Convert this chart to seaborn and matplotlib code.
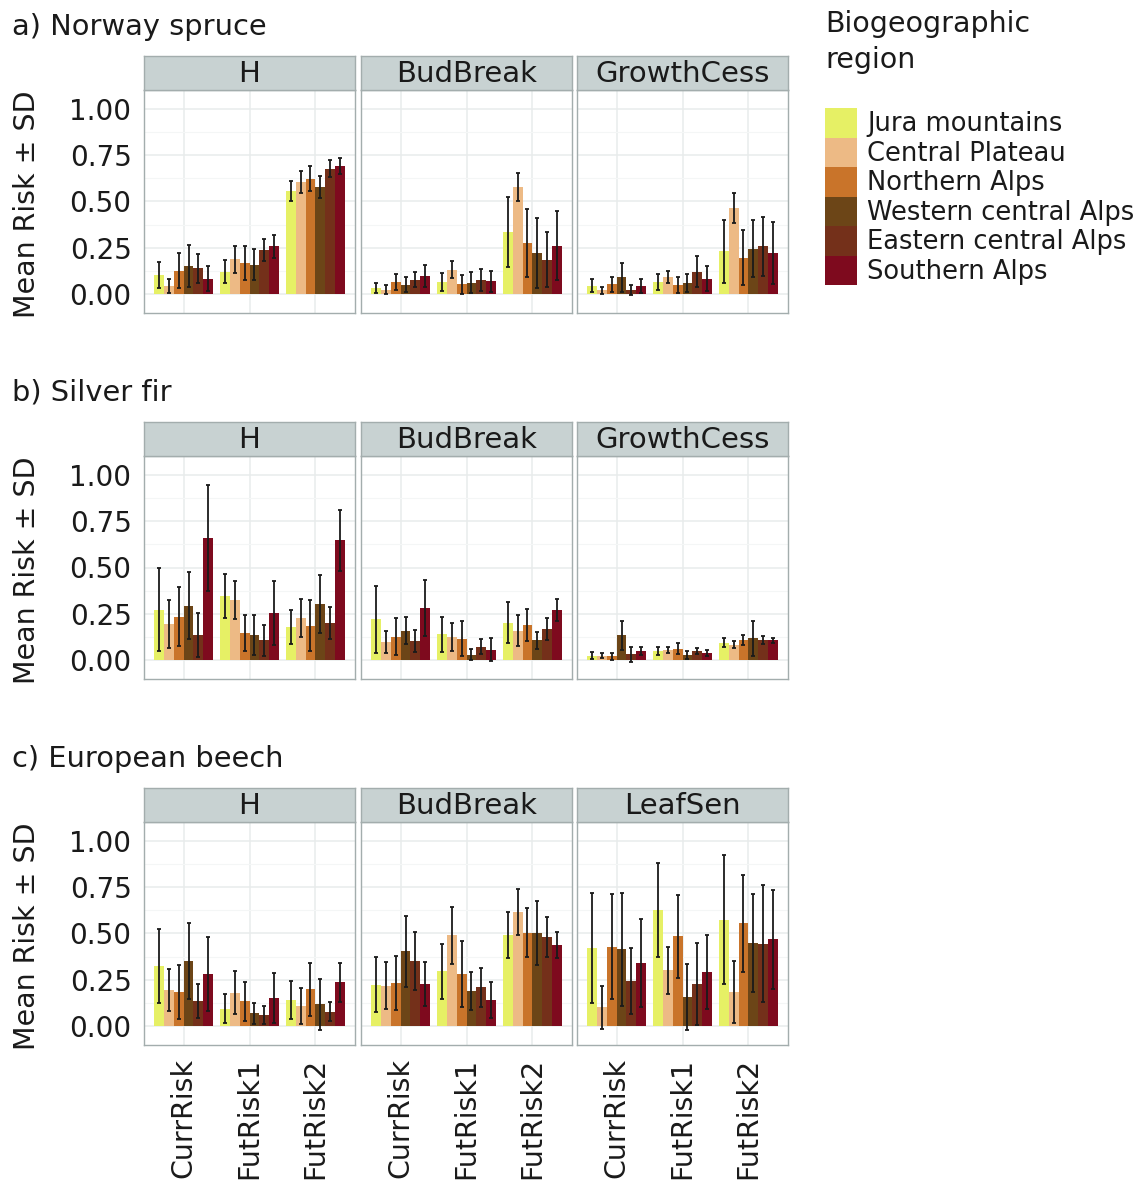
import numpy as np
import pandas as pd
import matplotlib
matplotlib.use("Agg")
import matplotlib.pyplot as plt
from matplotlib.ticker import FixedLocator
import seaborn as sns

# ---------------------------------------------------------------- data
regions = ["Jura mountains", "Central Plateau", "Northern Alps",
           "Western central Alps", "Eastern central Alps", "Southern Alps"]
region_colors = ["#E6F065", "#EDBA85", "#C9742A", "#6C4517", "#74301A", "#7E0A1E"]
periods = ["CurrRisk", "FutRisk1", "FutRisk2"]

# values ordered CurrRisk (6 regions), FutRisk1 (6), FutRisk2 (6)
spruce_H_mean = [0.103, 0.047, 0.128, 0.153, 0.140, 0.085,
                 0.123, 0.189, 0.169, 0.160, 0.240, 0.258,
                 0.557, 0.605, 0.622, 0.578, 0.677, 0.690]
spruce_H_sd = [0.070, 0.038, 0.094, 0.115, 0.080, 0.066,
               0.062, 0.073, 0.089, 0.085, 0.060, 0.060,
               0.054, 0.061, 0.068, 0.060, 0.045, 0.043]
spruce_BB_mean = [0.036, 0.025, 0.068, 0.052, 0.079, 0.097,
                  0.067, 0.133, 0.054, 0.063, 0.076, 0.070,
                  0.337, 0.578, 0.277, 0.223, 0.186, 0.263]
spruce_BB_sd = [0.026, 0.023, 0.042, 0.040, 0.040, 0.059,
                0.050, 0.045, 0.052, 0.056, 0.059, 0.057,
                0.188, 0.077, 0.185, 0.187, 0.148, 0.185]
spruce_GC_mean = [0.047, 0.022, 0.054, 0.092, 0.025, 0.047,
                  0.067, 0.094, 0.052, 0.061, 0.123, 0.085,
                  0.232, 0.465, 0.196, 0.247, 0.259, 0.223]
spruce_GC_sd = [0.036, 0.018, 0.041, 0.077, 0.026, 0.037,
                0.042, 0.034, 0.042, 0.050, 0.083, 0.069,
                0.168, 0.082, 0.148, 0.154, 0.159, 0.166]

fir_H_mean = [0.272, 0.196, 0.236, 0.295, 0.138, 0.658,
              0.345, 0.324, 0.147, 0.137, 0.108, 0.255,
              0.180, 0.230, 0.187, 0.304, 0.203, 0.647]
fir_H_sd = [0.224, 0.128, 0.160, 0.181, 0.117, 0.285,
            0.118, 0.103, 0.096, 0.107, 0.085, 0.172,
            0.091, 0.103, 0.138, 0.156, 0.086, 0.164]
fir_BB_mean = [0.221, 0.100, 0.128, 0.160, 0.104, 0.282,
               0.140, 0.126, 0.117, 0.031, 0.074, 0.058,
               0.203, 0.160, 0.191, 0.108, 0.169, 0.270]
fir_BB_sd = [0.182, 0.060, 0.100, 0.072, 0.058, 0.149,
             0.093, 0.077, 0.095, 0.028, 0.042, 0.061,
             0.110, 0.084, 0.084, 0.045, 0.059, 0.060]
fir_GC_mean = [0.025, 0.025, 0.022, 0.135, 0.032, 0.049,
               0.052, 0.056, 0.063, 0.031, 0.050, 0.041,
               0.095, 0.085, 0.110, 0.119, 0.108, 0.108]
fir_GC_sd = [0.020, 0.013, 0.019, 0.079, 0.042, 0.021,
             0.021, 0.017, 0.029, 0.021, 0.018, 0.016,
             0.025, 0.017, 0.027, 0.095, 0.022, 0.013]

beech_H_mean = [0.326, 0.196, 0.185, 0.351, 0.137, 0.281,
                0.095, 0.182, 0.135, 0.070, 0.061, 0.151,
                0.142, 0.110, 0.200, 0.119, 0.079, 0.237]
beech_H_sd = [0.200, 0.113, 0.143, 0.203, 0.093, 0.198,
              0.079, 0.117, 0.106, 0.055, 0.048, 0.135,
              0.100, 0.097, 0.143, 0.136, 0.052, 0.104]
beech_BB_mean = [0.225, 0.220, 0.234, 0.405, 0.351, 0.227,
                 0.297, 0.490, 0.283, 0.191, 0.211, 0.142,
                 0.492, 0.614, 0.505, 0.505, 0.483, 0.440]
beech_BB_sd = [0.146, 0.127, 0.143, 0.191, 0.156, 0.118,
               0.147, 0.154, 0.177, 0.103, 0.105, 0.099,
               0.123, 0.123, 0.131, 0.172, 0.108, 0.070]
beech_LS_mean = [0.422, 0.103, 0.429, 0.414, 0.243, 0.339,
                 0.627, 0.301, 0.485, 0.159, 0.229, 0.292,
                 0.575, 0.184, 0.555, 0.449, 0.445, 0.468]
beech_LS_sd = [0.295, 0.115, 0.282, 0.305, 0.178, 0.237,
               0.252, 0.128, 0.223, 0.177, 0.219, 0.199,
               0.347, 0.167, 0.260, 0.263, 0.314, 0.264]

row_titles = ["a) Norway spruce", "b) Silver fir", "c) European beech"]
rows = [
    [("H", spruce_H_mean, spruce_H_sd),
     ("BudBreak", spruce_BB_mean, spruce_BB_sd),
     ("GrowthCess", spruce_GC_mean, spruce_GC_sd)],
    [("H", fir_H_mean, fir_H_sd),
     ("BudBreak", fir_BB_mean, fir_BB_sd),
     ("GrowthCess", fir_GC_mean, fir_GC_sd)],
    [("H", beech_H_mean, beech_H_sd),
     ("BudBreak", beech_BB_mean, beech_BB_sd),
     ("LeafSen", beech_LS_mean, beech_LS_sd)],
]
y_ticks = [0.0, 0.25, 0.5, 0.75, 1.0]
y_ticklabels = ["0.00", "0.25", "0.50", "0.75", "1.00"]

# ---------------------------------------------------------------- style
sns.set_theme(style="white")
plt.rcParams["font.family"] = ["DejaVu Sans"]

W, H = 1145, 1187
fig = plt.figure(figsize=(W / 100, H / 100), dpi=100)


def rect(x0, y0, x1, y1):
    return [x0 / W, 1 - y1 / H, (x1 - x0) / W, (y1 - y0) / H]


border = "#A3ADAD"
strip_fill = "#C8D2D2"
major_grid = "#E8ECEC"
minor_grid = "#F4F6F6"
text_col = "#1A1A1A"

col_x = [(144, 355), (361, 572), (577, 788)]
strip_top = [56, 422, 788]
strip_h = 34
panel_h = 223

legend_handles = None
for r, panels in enumerate(rows):
    top = strip_top[r]
    p_top = top + strip_h
    p_bot = p_top + panel_h
    fig.text(12 / W, 1 - (35 + 366 * r) / H, row_titles[r], fontsize=20.8,
             color=text_col, ha="left", va="baseline")
    fig.text(27 / W, 1 - ((p_top + p_bot) / 2 + 3) / H, "Mean Risk \u00b1 SD",
             fontsize=20.5, rotation=90, ha="center", va="center", color=text_col)
    for c, (facet, means, sds) in enumerate(panels):
        x0, x1 = col_x[c]
        df = pd.DataFrame({
            "period": np.repeat(periods, len(regions)),
            "region": regions * len(periods),
            "mean": means,
            "sd": sds,
        })
        ax = fig.add_axes(rect(x0, p_top, x1, p_bot))
        ax.set_axisbelow(True)
        sns.barplot(data=df, x="period", y="mean", hue="region",
                    order=periods, hue_order=regions, palette=region_colors,
                    width=0.9, saturation=1, errorbar=None, ax=ax,
                    linewidth=0, edgecolor="none",
                    legend=(r == 0 and c == 0))
        if legend_handles is None:
            legend_handles, legend_labels = ax.get_legend_handles_labels()
        if ax.get_legend() is not None:
            ax.get_legend().remove()

        bar_groups = list(ax.containers)
        for k, cont in enumerate(bar_groups):
            for bar in cont:
                xc = bar.get_x() + bar.get_width() / 2
                j = int(round(xc))
                row = df[(df["period"] == periods[j]) & (df["region"] == regions[k])].iloc[0]
                ax.errorbar(xc, row["mean"], yerr=row["sd"], fmt="none",
                            ecolor=text_col, elinewidth=1.3, capsize=1.3,
                            capthick=1.3, zorder=3)

        ax.set_xlim(-0.6, 2.6)
        ax.set_ylim(-0.1, 1.1)
        ax.set_xlabel("")
        ax.set_ylabel("")
        ax.set_yticks(y_ticks)
        ax.yaxis.set_minor_locator(FixedLocator([0.125, 0.375, 0.625, 0.875]))
        ax.grid(which="major", color=major_grid, lw=1.1)
        ax.grid(which="minor", axis="y", color=minor_grid, lw=0.8)
        ax.tick_params(which="minor", length=0)
        ax.tick_params(which="major", length=5, width=1.1, color="#8F9999",
                       labelsize=20, labelcolor=text_col, pad=4)
        ax.set_xticks([0, 1, 2])
        if r == 2:
            ax.set_xticklabels(periods, rotation=90, fontsize=20.5)
        else:
            ax.set_xticklabels([])
        if c == 0:
            ax.set_yticklabels(y_ticklabels)
        else:
            ax.tick_params(axis="y", which="both", left=False, labelleft=False)
        for s in ax.spines.values():
            s.set_color(border)
            s.set_linewidth(1.0)
            s.set_visible(True)

        sax = fig.add_axes(rect(x0, top, x1, p_top))
        sax.set_facecolor(strip_fill)
        sax.set_xticks([])
        sax.set_yticks([])
        for s in sax.spines.values():
            s.set_color(border)
            s.set_linewidth(1.0)
        sax.text(0.5, 0.47, facet, transform=sax.transAxes, ha="center",
                 va="center", fontsize=21, color=text_col)

# legend
fig.text(825 / W, 1 - 10 / H, "Biogeographic\nregion", fontsize=20.5,
         ha="left", va="top", color=text_col, linespacing=1.38)
fs = 18.5
fs_px = fs * 100 / 72
key_h = 29.5 / fs_px
hh = (key_h - 0.245) / 0.65
fig.legend(legend_handles, legend_labels, loc="upper left",
           bbox_to_anchor=(825 / W, 1 - 108 / H), frameon=False,
           fontsize=fs, handlelength=32 / fs_px, handleheight=hh,
           labelspacing=0, handletextpad=10 / fs_px, borderpad=0,
           borderaxespad=0, labelcolor=text_col)

fig.savefig("out.png", dpi=100)
